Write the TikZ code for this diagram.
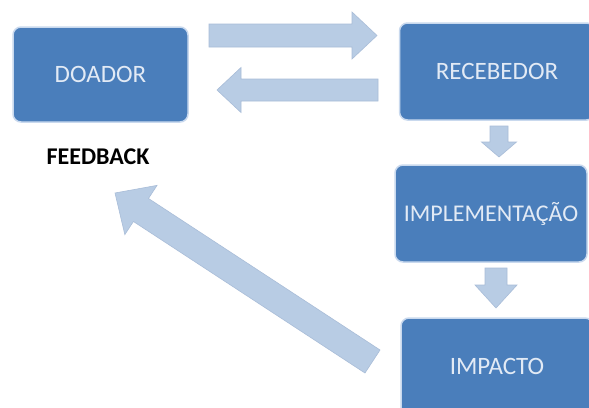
\documentclass[tikz,border=0pt]{standalone}
\usepackage{fontspec}
\setmainfont{Carlito}
\usetikzlibrary{calc}
\definecolor{boxfill}{HTML}{4A7EBB}
\definecolor{boxline}{HTML}{C9D9EE}
\definecolor{boxtext}{HTML}{E2EAF5}
\definecolor{arrowfill}{HTML}{B8CCE4}
\definecolor{arrowline}{HTML}{A9BDD8}
\tikzset{
  stagebox/.style={draw=boxline, line width=1.5pt, fill=boxfill, rounded corners=8pt,
    text=boxtext, font=\fontsize{25}{29}\selectfont, inner sep=0pt},
  blockarrow/.style={fill=arrowfill, draw=arrowline, line width=0.6pt, line join=miter},
  fbtext/.style={font=\bfseries\fontsize{24}{28}\selectfont, text=black}
}
% #1 tail, #2 tip, #3 half shaft width, #4 half head width, #5 head length
\newcommand\myblockarrow[5]{%
  \coordinate (ba-h) at ($(#2)!#5!(#1)$);
  \path[blockarrow]
    ($(#1)!#3!90:(#2)$) -- ($(ba-h)!#3!90:(#2)$) -- ($(ba-h)!#4!90:(#2)$) -- (#2)
    -- ($(ba-h)!#4!-90:(#2)$) -- ($(ba-h)!#3!-90:(#2)$) -- ($(#1)!#3!-90:(#2)$) -- cycle;
}
\begin{document}
\begin{tikzpicture}[x=1pt,y=-1pt]
\useasboundingbox (0,0) rectangle (589,407);
\fill[white] (0,0) rectangle (589,407);
\clip (0,0) rectangle (589,407);

\node[stagebox, minimum width=175pt, minimum height=95pt] (doador) at (100.5,74.5) {DOADOR};
\node[stagebox, minimum width=195pt, minimum height=97pt] (recebedor) at (497,71.5) {RECEBEDOR};
\node[stagebox, minimum width=192pt, minimum height=97pt, font=\fontsize{24}{28}\selectfont] (impl) at (491,213.5) {IMPLEMENTAÇÃO};
\node[stagebox, minimum width=192pt, minimum height=97pt] (impacto) at (497,366.5) {IMPACTO};
\node[fbtext] (feedback) at (98,157) {FEEDBACK};

\coordinate (r1) at (209,35.5);  \coordinate (r2) at (377,35.5);
\coordinate (l1) at (378,90);    \coordinate (l2) at (217,90);
\coordinate (d1) at (499,126);   \coordinate (d2) at (499,157);
\coordinate (e1) at (496,268);   \coordinate (e2) at (496,308);
\coordinate (f1) at (372.5,361.5); \coordinate (f2) at (115,193);

\myblockarrow{r1}{r2}{11.5pt}{23.5pt}{25pt}
\myblockarrow{l1}{l2}{11pt}{22.5pt}{24pt}
\myblockarrow{d1}{d2}{9pt}{17.5pt}{15pt}
\myblockarrow{e1}{e2}{11pt}{21pt}{23pt}
\myblockarrow{f1}{f2}{13.75pt}{29.4pt}{31pt}
\end{tikzpicture}
\end{document}
